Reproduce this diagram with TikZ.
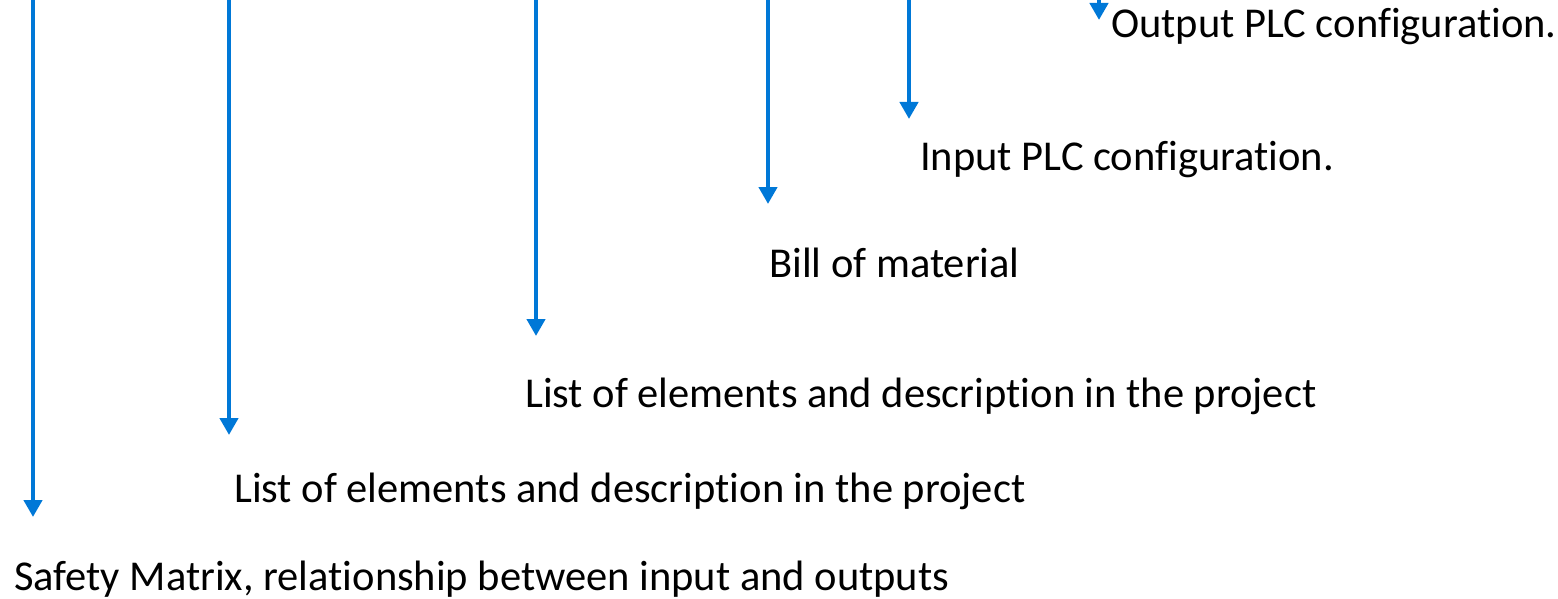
\documentclass[tikz,border=0pt]{standalone}
\usepackage{fontspec}
\setmainfont[Ligatures=NoCommon]{Carlito}
\usetikzlibrary{arrows.meta}
\definecolor{arrowblue}{HTML}{0078D7}
\begin{document}
\begin{tikzpicture}[x=1pt,y=-1pt,
  lbl/.style={anchor=base west,inner sep=0pt,font=\fontsize{42.5}{50}\selectfont,text=black},
  flow/.style={draw=arrowblue,line width=4.5pt,-{Triangle[width=18pt,length=17pt]}}]
\useasboundingbox (0,0) rectangle (1558,599);
% free ends
\coordinate (s1) at (33,-5);   \coordinate (t1) at (33,517);
\coordinate (s2) at (229,-5);  \coordinate (t2) at (229,435);
\coordinate (s3) at (536,-5);  \coordinate (t3) at (536,336);
\coordinate (s4) at (768,-5);  \coordinate (t4) at (768,204);
\coordinate (s5) at (909,-5);  \coordinate (t5) at (909,119);
\coordinate (s6) at (1099,-5); \coordinate (t6) at (1099,20);
\node[lbl] (out) at (1111,38) {Output PLC configuration.};
\node[lbl] (in) at (920,170) {Input PLC configuration.};
\node[lbl] (bom) at (769,277) {Bill of material};
\node[lbl] (list1) at (525,407) {List of elements and description in the project};
\node[lbl] (list2) at (234,502) {List of elements and description in the project};
\node[lbl] (safety) at (14,590) {Safety Matrix, relationship between input and outputs};
\draw[flow] (s1) -- (t1);
\draw[flow] (s2) -- (t2);
\draw[flow] (s3) -- (t3);
\draw[flow] (s4) -- (t4);
\draw[flow] (s5) -- (t5);
\draw[flow] (s6) -- (t6);
\end{tikzpicture}
\end{document}
